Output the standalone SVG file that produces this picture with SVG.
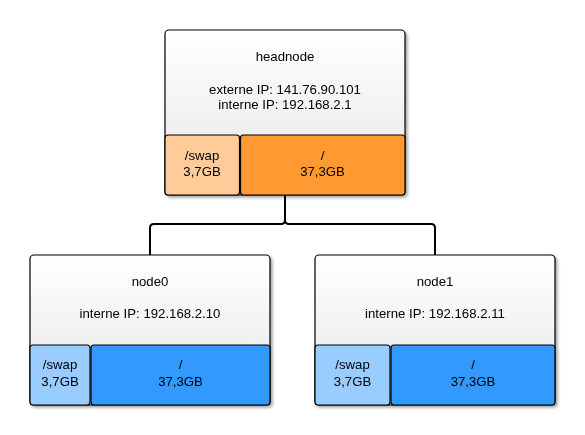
<svg xmlns="http://www.w3.org/2000/svg" width="585" height="435" viewBox="0 0 585 435">
<defs>
<linearGradient id="g" x1="0" y1="0" x2="0" y2="1">
<stop offset="0" stop-color="#ffffff"/>
<stop offset="1" stop-color="#e6e6e6"/>
</linearGradient>
<filter id="sh" x="-10%" y="-10%" width="125%" height="125%">
<feGaussianBlur in="SourceAlpha" stdDeviation="1.5"/>
<feOffset dx="1.5" dy="2" result="b"/>
<feComponentTransfer><feFuncA type="linear" slope="0.35"/></feComponentTransfer>
<feMerge><feMergeNode/><feMergeNode in="SourceGraphic"/></feMerge>
</filter>
</defs>
<style>
.box{fill:url(#g);stroke:#000;stroke-width:1.2}
.p{stroke:#000;stroke-width:1.2}
.so{fill:#ffcc99}.ro{fill:#ff9933}
.sb{fill:#99ccff}.rb{fill:#3399ff}
text{font-family:"Liberation Sans",Arial,sans-serif;font-size:13.2px;fill:#000;text-anchor:middle}
.c{fill:none;stroke:#000;stroke-width:2}
</style>
<g id="connectors">
<path class="c" d="M285 195 V220 Q285 224 281 224 H154 Q150 224 150 228 V255"/>
<path class="c" d="M285 220 Q285 224 289 224 H431 Q435 224 435 228 V255"/>
</g>
<g id="headnode" filter="url(#sh)">
<rect class="box" x="165" y="30" width="240" height="165" rx="4"/>
<rect class="p so" x="165" y="135" width="74.5" height="60" rx="3"/>
<rect class="p ro" x="240.5" y="135" width="164.5" height="60" rx="3"/>
<text x="285" y="60.5">headnode</text>
<text x="285" y="93.5">externe IP: 141.76.90.101</text>
<text x="285" y="109">interne IP: 192.168.2.1</text>
<text x="202" y="159.5">/swap</text>
<text x="202" y="175.5">3,7GB</text>
<text x="322.5" y="159.5">/</text>
<text x="322.5" y="175.5">37,3GB</text>
</g>
<g id="node0" filter="url(#sh)">
<rect class="box" x="30" y="255" width="240" height="150" rx="4"/>
<rect class="p sb" x="30" y="345" width="60" height="60" rx="3"/>
<rect class="p rb" x="91" y="345" width="179" height="60" rx="3"/>
<text x="150" y="285.5">node0</text>
<text x="150" y="317.5">interne IP: 192.168.2.10</text>
<text x="60" y="368.5">/swap</text>
<text x="60" y="385.5">3,7GB</text>
<text x="180.5" y="368.5">/</text>
<text x="180.5" y="385.5">37,3GB</text>
</g>
<g id="node1" filter="url(#sh)">
<rect class="box" x="315" y="255" width="240" height="150" rx="4"/>
<rect class="p sb" x="315" y="345" width="75" height="60" rx="3"/>
<rect class="p rb" x="391" y="345" width="164" height="60" rx="3"/>
<text x="435" y="285.5">node1</text>
<text x="435" y="317.5">interne IP: 192.168.2.11</text>
<text x="352.5" y="368.5">/swap</text>
<text x="352.5" y="385.5">3,7GB</text>
<text x="473" y="368.5">/</text>
<text x="473" y="385.5">37,3GB</text>
</g>
</svg>
